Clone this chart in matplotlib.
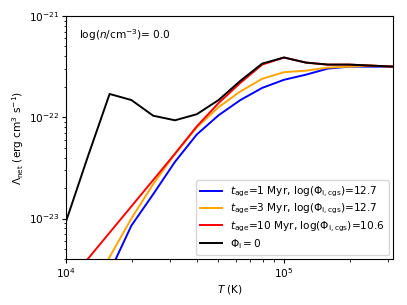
import numpy as np
import matplotlib
matplotlib.use("Agg")
import matplotlib.pyplot as plt

logT = [4.0, 4.1, 4.2, 4.3, 4.4, 4.5, 4.6, 4.7, 4.8, 4.9, 5.0, 5.1, 5.2, 5.3, 5.4, 5.5]

log_lam_1myr = [-24.35, -23.95, -23.53, -23.07, -22.76, -22.44, -22.17, -21.98, -21.83,
                -21.71, -21.63, -21.58, -21.52, -21.50, -21.50, -21.50]
log_lam_3myr = [-24.2, -23.78, -23.38, -23.00, -22.66, -22.36, -22.10, -21.90, -21.745,
                -21.62, -21.555, -21.54, -21.51, -21.50, -21.49, -21.50]
log_lam_10myr = [-23.66, -23.40, -23.14, -22.88, -22.62, -22.36, -22.09, -21.86, -21.66,
                 -21.48, -21.41, -21.46, -21.48, -21.48, -21.49, -21.50]
log_lam_nophi = [-23.03, -22.39, -21.77, -21.83, -21.985, -22.03, -21.97, -21.83, -21.64,
                 -21.47, -21.41, -21.46, -21.48, -21.48, -21.49, -21.50]

labels = [r"$t_{\rm age}$=1 Myr, log($\Phi_{\rm i,cgs}$)=12.7",
          r"$t_{\rm age}$=3 Myr, log($\Phi_{\rm i,cgs}$)=12.7",
          r"$t_{\rm age}$=10 Myr, log($\Phi_{\rm i,cgs}$)=10.6",
          r"$\Phi_{\rm i}=0$"]
colors = ["blue", "orange", "red", "black"]

fs = 7.6
fig = plt.figure(figsize=(4.07, 3.05), dpi=100)
ax = fig.add_axes([66/407, 1-259/305, (393-66)/407, (259-16)/305])

T = 10**np.array(logT)
for ys, lab, c in zip([log_lam_1myr, log_lam_3myr, log_lam_10myr, log_lam_nophi], labels, colors):
    ax.plot(T, 10**np.array(ys), color=c, lw=1.4, label=lab)

ax.set_xscale("log")
ax.set_yscale("log")
ax.set_xlim(1e4, 10**5.5)
ax.set_ylim(10**-23.4, 1e-21)
ax.set_xlabel(r"$T$ (K)", fontsize=fs, labelpad=2)
ax.set_ylabel(r"$\Lambda_{\rm net}$ (erg cm$^3$ s$^{-1}$)", fontsize=fs, labelpad=2)
ax.tick_params(which="major", labelsize=fs, length=3, pad=2)
ax.tick_params(which="minor", length=1.8)
ax.text(0.04, 0.92, r"log($n$/cm$^{-3}$)= 0.0", transform=ax.transAxes,
        ha="left", va="center", fontsize=fs)
ax.legend(loc="lower right", fontsize=fs, labelspacing=0.28, borderaxespad=0.4)
fig.savefig("out.png", dpi=100)
